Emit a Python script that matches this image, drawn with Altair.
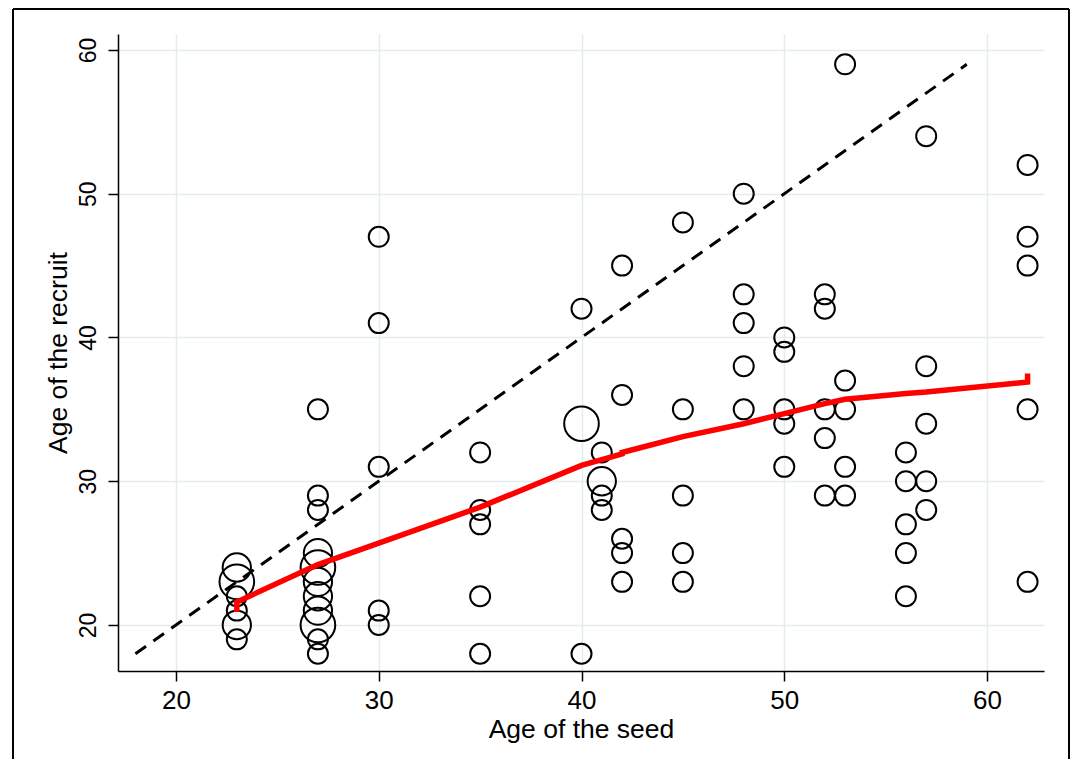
import altair as alt
import pandas as pd

# ---- data ----
seed_age = [23, 23, 23, 23, 23, 23,
            27, 27, 27, 27, 27, 27, 27, 27, 27, 27, 27,
            30, 30, 30, 30, 30,
            35, 35, 35, 35, 35,
            40, 40, 40,
            41, 41, 41, 41,
            42, 42, 42, 42, 42,
            45, 45, 45, 45, 45,
            48, 48, 48, 48, 48,
            50, 50, 50, 50, 50,
            52, 52, 52, 52, 52,
            53, 53, 53, 53, 53,
            56, 56, 56, 56, 56,
            57, 57, 57, 57, 57,
            62, 62, 62, 62, 62]
recruit_age = [24, 23, 22, 21, 20, 19,
               35, 29, 28, 25, 24, 23, 22, 21, 20, 19, 18,
               47, 41, 31, 21, 20,
               32, 28, 27, 22, 18,
               42, 34, 18,
               32, 30, 29, 28,
               45, 36, 26, 25, 23,
               48, 35, 29, 25, 23,
               50, 43, 41, 38, 35,
               40, 39, 35, 34, 31,
               43, 42, 35, 33, 29,
               59, 37, 35, 31, 29,
               32, 30, 27, 25, 22,
               54, 38, 34, 30, 28,
               52, 47, 45, 35, 23]
freq = [2, 3, 1, 1, 2, 1,
        1, 1, 1, 2, 3, 2, 2, 2, 3, 1, 1,
        1, 1, 1, 1, 1,
        1, 1, 1, 1, 1,
        1, 3, 1,
        1, 2, 1, 1,
        1, 1, 1, 1, 1,
        1, 1, 1, 1, 1,
        1, 1, 1, 1, 1,
        1, 1, 1, 1, 1,
        1, 1, 1, 1, 1,
        1, 1, 1, 1, 1,
        1, 1, 1, 1, 1,
        1, 1, 1, 1, 1,
        1, 1, 1, 1, 1]

lowess_x = [23, 23, 27, 30, 35, 40, 41, 42, 42, 45, 48, 50, 52, 53, 56, 57, 62, 62]
lowess_y = [20.9, 21.6, 24.2, 25.7, 28.2, 31.1, 31.5, 31.9, 32.0, 33.1, 34.0,
            34.7, 35.4, 35.7, 36.1, 36.2, 36.9, 37.5]

diag_x = [18, 59]
diag_y = [18, 59]

x_ticks = [20, 30, 40, 50, 60]
y_ticks = [20, 30, 40, 50, 60]

x_domain = [17.14, 62.81]
y_domain = [16.80, 61.11]

FONT = "Liberation Sans"

pts = pd.DataFrame({"seed": seed_age, "recruit": recruit_age, "n": freq})
low = pd.DataFrame({"seed": lowess_x, "recruit": lowess_y, "o": list(range(len(lowess_x)))})
diag = pd.DataFrame({"seed": diag_x, "recruit": diag_y})

xenc = alt.X("seed:Q",
             scale=alt.Scale(domain=x_domain, nice=False, zero=False),
             axis=alt.Axis(values=x_ticks, title="Age of the seed", format="d",
                           labelFlush=False, labelPadding=6, titlePadding=3,
                           labelFontSize=26, titleFontSize=26.5))
yenc = alt.Y("recruit:Q",
             scale=alt.Scale(domain=y_domain, nice=False, zero=False),
             axis=alt.Axis(values=y_ticks, title="Age of the recruit", format="d",
                           labelAngle=270, labelAlign="center", labelBaseline="bottom",
                           labelFlush=False, labelPadding=8, titlePadding=5,
                           labelFontSize=23, titleFontSize=26.5))

points = alt.Chart(pts).mark_point(shape="circle", filled=False, color="black",
                                   strokeWidth=2, opacity=1).encode(
    x=xenc, y=yenc,
    size=alt.Size("n:Q", scale=alt.Scale(domain=[0, 3], range=[0, 1200]), legend=None))

dline = alt.Chart(diag).mark_line(color="black", strokeWidth=3, strokeDash=[13, 9]).encode(
    x="seed:Q", y="recruit:Q")

lline = alt.Chart(low).mark_line(color="#ff0000", strokeWidth=5.5).encode(
    x="seed:Q", y="recruit:Q", order="o:Q")

frame = pd.DataFrame({"k": [0]})
left_b = alt.Chart(frame).mark_rule(color="black", strokeWidth=2).encode(
    x=alt.value(-105), y=alt.value(-25), y2=alt.value(800))
right_b = alt.Chart(frame).mark_rule(color="black", strokeWidth=2).encode(
    x=alt.value(951), y=alt.value(-25), y2=alt.value(800))
top_b = alt.Chart(frame).mark_rule(color="black", strokeWidth=2).encode(
    x=alt.value(-105), x2=alt.value(951), y=alt.value(-25))

chart = alt.layer(points, dline, lline, left_b, right_b, top_b).properties(
    width=926, height=637,
    autosize=alt.AutoSizeParams(type="none"),
    padding={"left": 110, "top": 26, "right": 26, "bottom": 88},
).configure_view(stroke=None).configure_axis(
    labelFont=FONT, titleFont=FONT,
    labelColor="black", titleColor="black", titleFontWeight="normal",
    domainColor="black", domainWidth=1.5, tickColor="black", tickWidth=1.5, tickSize=10,
    gridColor="#e3ecef", gridWidth=1.5,
)

chart.save("out.html", embed_options={"renderer": "svg", "actions": False})
